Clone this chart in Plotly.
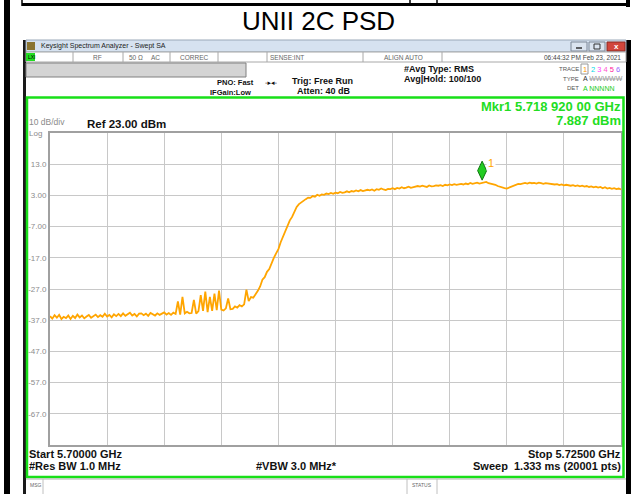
import numpy as np
import plotly.graph_objects as go

# ---------------- data ----------------
title_text = "UNII 2C PSD"
start_ghz = 5.700
stop_ghz = 5.725
ref_dbm = 23.0
bottom_dbm = -77.0
y_tick_vals = [13, 3, -7, -17, -27, -37, -47, -57, -67]
y_tick_text = ["13.0", "3.00", "-7.00", "-17.0", "-27.0", "-37.0", "-47.0", "-57.0", "-67.0"]
x_grid_ghz = [5.7025, 5.7050, 5.7075, 5.7100, 5.7125, 5.7150, 5.7175, 5.7200, 5.7225]

# trace levels, one value every 0.1 MHz from 5.7000 to 5.7250 GHz
level_dbm = [
    -35.7, -36.5, -35.4, -36.2, -35.3, -36.6, -35.9, -36.3, -35.5, -36.6,
    -35.6, -36.3, -35.2, -36.1, -35.5, -36.4, -35.8, -35.3, -36.2, -35.6,
    -35.2, -36.0, -35.4, -35.9, -34.9, -35.8, -35.3, -36.1, -35.1, -35.7,
    -35.0, -35.7, -34.8, -35.6, -35.1, -34.6, -35.5, -35.0, -35.8, -34.9,
    -34.8, -35.4, -34.9, -35.6, -34.7, -35.2, -35.5, -34.8, -35.3, -34.9,
    -34.5, -35.2, -34.7, -35.3, -34.6, -35.0, -31.0, -35.2, -29.5, -34.8,
    -34.3, -34.8, -34.7, -30.5, -34.9, -34.1, -29.0, -34.0, -27.8, -34.4,
    -29.5, -34.0, -28.5, -33.8, -27.5, -33.6, -33.9, -33.2, -30.0, -33.5,
    -33.4, -32.6, -33.0, -32.2, -32.6, -31.9, -27.2, -30.9, -29.6, -29.8,
    -28.8, -27.6, -26.2, -24.0, -23.2, -21.5, -20.6, -18.7, -17.0, -15.6,
    -14.2, -12.0, -10.2, -8.9, -6.8, -5.0, -3.9, -2.3, -0.7, 0.2,
    0.8, 1.5, 1.8, 2.3, 2.2, 2.8, 2.6, 3.2, 2.9, 3.3,
    3.2, 3.6, 3.4, 3.8, 3.5, 3.9, 3.7, 4.1, 3.8, 4.0,
    4.3, 4.0, 4.4, 4.2, 4.6, 4.3, 4.7, 4.4, 4.5, 4.8,
    4.6, 4.9, 4.5, 5.0, 4.8, 5.2, 4.9, 4.7, 5.1, 5.0,
    5.3, 5.0, 5.4, 5.2, 5.6, 5.3, 5.5, 5.8, 5.4, 5.6,
    5.7, 6.0, 5.8, 6.1, 5.9, 5.7, 6.2, 5.9, 6.0, 6.2,
    6.1, 6.3, 6.0, 6.4, 6.2, 6.5, 6.3, 6.6, 6.4, 6.5,
    6.7, 6.5, 6.8, 6.6, 7.0, 6.7, 6.9, 7.1, 6.8, 7.0,
    7.1, 7.3, 6.9, 6.8, 6.5, 6.4, 6.0, 5.7, 5.5, 5.3,
    5.2, 5.5, 5.9, 6.2, 6.4, 6.7, 6.6, 6.9, 7.0, 6.8,
    7.1, 6.9, 7.0, 6.8, 7.1, 6.9, 6.7, 6.9, 6.8, 6.6,
    6.7, 6.5, 6.6, 6.3, 6.5, 6.2, 6.4, 6.3, 6.1, 6.3,
    6.0, 6.2, 5.9, 6.1, 5.8, 6.0, 5.7, 5.9, 5.6, 5.8,
    5.5, 5.7, 5.3, 5.6, 5.2, 5.4, 5.1, 5.3, 5.0, 5.2,
    4.9,
]
marker_freq_ghz = 5.71892
marker_level_dbm = 7.887

freq_ghz = np.linspace(start_ghz, stop_ghz, len(level_dbm))

# ---------------- geometry helpers (page pixels -> paper) ----------------
W_FIG, H_FIG = 637, 494
L, T, R, B = 50, 133, 621, 445


def PX(x):
    return (x - L) / (R - L)


def PY(y):
    return (B - y) / (B - T)


FONT = "Liberation Sans, Arial, sans-serif"
shapes = []
annots = []


def rect(x0, y0, x1, y1, fill=None, line=None, lw=1):
    shapes.append(dict(type="rect", xref="paper", yref="paper",
                       x0=PX(x0), x1=PX(x1), y0=PY(y0), y1=PY(y1),
                       fillcolor=fill if fill else "rgba(0,0,0,0)",
                       line=dict(color=line if line else "rgba(0,0,0,0)", width=lw if line else 0),
                       layer="above"))


def seg(x0, y0, x1, y1, color, lw=1):
    shapes.append(dict(type="line", xref="paper", yref="paper",
                       x0=PX(x0), x1=PX(x1), y0=PY(y0), y1=PY(y1),
                       line=dict(color=color, width=lw), layer="above"))


def txt(x, y, s, size, color="#000", anchor="left", bold=False, family=FONT, bg=None):
    if bold:
        s = "<b>" + s + "</b>"
    a = dict(xref="paper", yref="paper", x=PX(x), y=PY(y), text=s, showarrow=False,
             xanchor=anchor, yanchor="middle", borderpad=0,
             font=dict(size=size, color=color, family=family))
    if bg:
        a["bgcolor"] = bg
    annots.append(a)


# ---- page frame ----
rect(4, 0, 10, 494, fill="#000")
rect(22, 3, 629, 6, fill="#000")
for xv in [22, 410, 437]:
    seg(xv, 0, xv, 6, "#000", 1.5)
rect(626, 0, 630, 7, fill="#000")
rect(626, 40, 631, 494, fill="#000")
rect(23, 40, 26, 494, fill="#1a1a1a")

# title
txt(318, 21, title_text, 26, "#000", anchor="center")

# ---- window title bar ----
rect(26, 40, 626, 52, fill="#d6e2f0", line="#9aa8b8", lw=1)
rect(27, 42, 35, 50, fill="#8a7430")
txt(40, 46, "Keysight Spectrum Analyzer - Swept SA", 7, "#222")
rect(571, 42, 587, 51, fill="#dbe4ef", line="#7c8796", lw=1)
seg(576, 48, 582, 48, "#333", 1.5)
rect(589, 42, 605, 51, fill="#dbe4ef", line="#7c8796", lw=1)
rect(594, 44, 600, 49, line="#333", lw=1)
rect(607, 42, 625, 51, fill="#d2463c", line="#8c2a22", lw=1)
txt(616, 46.5, "x", 8, "#fff", anchor="center", bold=True)

# ---- status row ----
rect(26, 52, 626, 62, fill="#ffffff", line="#a8a8a8", lw=1)
rect(26, 53, 35, 61, fill="#22dd22")
txt(27, 57, "LXI", 5, "#000")
for xv in [73, 123, 170, 218, 267, 363, 442]:
    seg(xv, 52, xv, 62, "#a8a8a8", 1)
txt(97, 57, "RF", 6.5, "#666", anchor="center")
txt(128, 57, "50 Ω", 6.5, "#666")
txt(150, 57, "AC", 6.5, "#666")
txt(194, 57, "CORREC", 6.5, "#666", anchor="center")
txt(269, 57, "SENSE:INT", 6.5, "#666")
txt(403, 57, "ALIGN AUTO", 6.5, "#666", anchor="center")
txt(622, 57, "06:44:32 PM Feb 23, 2021", 6.5, "#444", anchor="right")

# ---- gray bar & info row ----
rect(26, 63, 246, 77, fill="#d4d4d4", line="#808080", lw=1)
txt(255, 83, "PNO: Fast", 7.5, "#111", anchor="right", bold=True)
txt(252, 92, "IFGain:Low", 7.5, "#111", anchor="right", bold=True)
txt(271, 83, "-▸◂-", 7, "#111", anchor="center", family="DejaVu Sans")
txt(291, 81, "Trig: Free Run", 9, "#111", bold=True)
txt(296, 91, "Atten: 40 dB", 9, "#111", bold=True)
txt(403, 69, "#Avg Type: RMS", 9, "#111", bold=True)
txt(403, 79, "Avg|Hold: 100/100", 9, "#111", bold=True)
txt(580, 69, "TRACE", 6, "#555", anchor="right")
txt(580, 79, "TYPE", 6, "#555", anchor="right")
txt(580, 88, "DET", 6, "#555", anchor="right")
rect(581, 64, 588, 74, line="#999", lw=1)
txt(584.5, 69, '<span style="color:#ff9900">1</span>', 7.5, "#000", anchor="center")
txt(590, 69, '<span style="color:#00d8e8">2</span> <span style="color:#ff44ff">3</span> '
    '<span style="color:#ff55cc">4</span> <span style="color:#ff2299">5</span> '
    '<span style="color:#9966ff">6</span>', 7.5, "#000")
txt(582, 79, 'A <span style="color:#999"><s>WWWWW</s></span>', 7, "#333")
txt(582, 88, "A NNNNN", 7, "#22cc22")

# ---- green frame ----
rect(27, 97.5, 623.5, 477, line="#18e018", lw=2.5)

# texts inside frame
txt(622, 106, "Mkr1 5.718 920 00 GHz", 13, "#22dd22", anchor="right", bold=True)
txt(622, 120.5, "7.887 dBm", 13, "#22dd22", anchor="right", bold=True)
txt(28, 122.5, "10 dB/div", 8.5, "#8a8a8a")
txt(28, 133, "Log", 8, "#8a8a8a")
txt(86, 124, "Ref 23.00 dBm", 11.5, "#111", bold=True)
txt(28, 454, "Start 5.70000 GHz", 11, "#111", bold=True)
txt(28, 466, "#Res BW 1.0 MHz", 11, "#111", bold=True)
txt(255, 466, "#VBW 3.0 MHz*", 11, "#111", bold=True)
txt(622, 454, "Stop 5.72500 GHz", 11, "#111", anchor="right", bold=True)
txt(622, 466, "Sweep  1.333 ms (20001 pts)", 11, "#111", anchor="right", bold=True)

# ---- MSG / STATUS row ----
seg(26, 479, 626, 479, "#b0b0b0", 1)
seg(43, 479, 43, 494, "#c0c0c0", 1)
seg(407, 479, 407, 494, "#c0c0c0", 1)
seg(437, 479, 437, 494, "#c0c0c0", 1)
txt(29, 485, "MSG", 5, "#666")
txt(422, 485, "STATUS", 5, "#666", anchor="center")

# ---- marker ----
shapes.append(dict(type="path", xref="x", yref="y", xsizemode="pixel", ysizemode="pixel",
                   xanchor=marker_freq_ghz, yanchor=marker_level_dbm,
                   path="M0,0 L-4.5,9.5 L0,19 L4.5,9.5 Z",
                   fillcolor="#22cc22", line=dict(color="#117711", width=1), layer="above"))
annots.append(dict(xref="x", yref="y", x=marker_freq_ghz, y=marker_level_dbm, text="1",
                   showarrow=False, xshift=9, yshift=17, bgcolor="#ffffff",
                   font=dict(size=11, color="#ffa500", family=FONT)))

# ---------------- figure ----------------
fig = go.Figure()
fig.add_trace(go.Scatter(x=freq_ghz, y=level_dbm, mode="lines",
                         line=dict(color="#ffa500", width=1.8), hoverinfo="skip",
                         showlegend=False))

fig.update_layout(
    width=W_FIG, height=H_FIG,
    margin=dict(l=L, r=W_FIG - R, t=T, b=H_FIG - B, pad=0),
    paper_bgcolor="#ffffff", plot_bgcolor="#ffffff",
    showlegend=False,
    font=dict(family=FONT),
    shapes=shapes, annotations=annots,
    xaxis=dict(range=[start_ghz, stop_ghz], tickvals=x_grid_ghz, showticklabels=False,
               showgrid=True, gridcolor="#c8c8c8", gridwidth=1, zeroline=False,
               showline=True, mirror=True, linecolor="#a0a0a0", linewidth=2, ticks=""),
    yaxis=dict(range=[bottom_dbm, ref_dbm], tickvals=y_tick_vals, ticktext=y_tick_text,
               tickfont=dict(size=8, color="#8c8c8c", family=FONT),
               showgrid=True, gridcolor="#c8c8c8", gridwidth=1, zeroline=False,
               showline=True, mirror=True, linecolor="#a0a0a0", linewidth=2, ticks=""),
)

fig.write_html("out.html", config={"displayModeBar": False},
               post_script="document.body.style.margin='0';document.body.style.overflow='hidden';")
